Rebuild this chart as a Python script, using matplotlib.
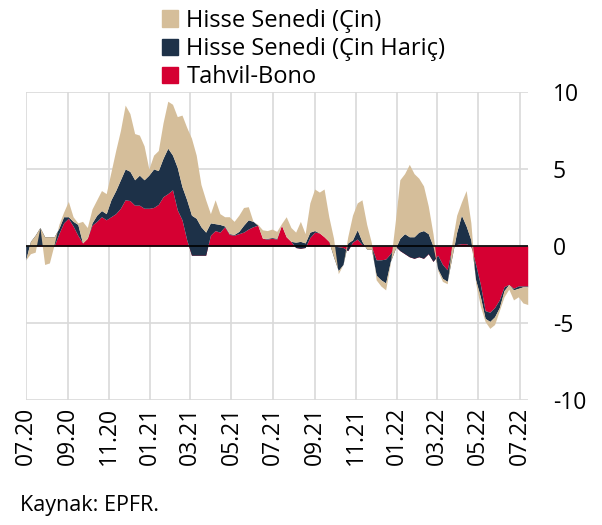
import matplotlib
matplotlib.use("Agg")
import matplotlib.pyplot as plt
import matplotlib.dates as mdates
from matplotlib.patches import Patch
import numpy as np
import pandas as pd

plt.rcParams['font.family'] = ['Open Sans', 'DejaVu Sans']
plt.rcParams['axes.unicode_minus'] = False

# weekly levels (stacked): bond, bond + equity ex-China, total
tahvil = [0, 0, 0, 0.1, 0, -0.3, 0, 0.8, 1.5, 1.8,
          1.3, 0.7, 0.2, 0.5, 1.35, 1.6, 1.9, 1.7, 1.9, 2.1,
          2.45, 3.0, 2.95, 2.65, 2.65, 2.45, 2.45, 2.5, 2.7, 3.2,
          3.4, 3.65, 2.35, 1.7, 0.4, -0.6, -0.6, -0.6, -0.6, 0.7,
          1.0, 0.9, 1.25, 0.75, 0.7, 0.8, 0.9, 1.1, 1.25, 1.35,
          0.5, 0.45, 0.5, 0.45, 1.35, 0.6, 0.3, -0.1, -0.15, -0.1,
          0.55, 0.9, 0.85, 0.6, 0.3, 0.0, -0.05, -0.1, -0.3, 0.25,
          0.45, 0.1, 0.0, -0.05, -0.9, -0.9, -0.85, -0.5, 0.0, -0.3,
          -0.5, -0.7, -0.8, -0.7, -0.8, -0.5, -1.0, -0.6, -1.2, -1.55,
          -0.1, 0.1, 0.15, 0.15, 0.0, -1.2, -2.5, -4.2, -4.3, -4.0,
          -3.5, -2.65, -2.5, -2.75, -2.6, -2.6, -2.6]
hisse_haric = [-0.9, 0.3, 0.7, 1.2, 0.6, 0.6, 0.6, 1.15, 1.9, 1.9,
               1.6, 1.4, 0.2, 0.5, 1.5, 2.0, 2.3, 2.1, 3.0, 3.6,
               4.3, 5.0, 4.85, 4.3, 4.6, 4.3, 4.6, 5.0, 4.9, 5.7,
               6.35, 5.9, 5.1, 3.85, 3.0, 2.0, 1.8, 1.25, 0.9, 1.5,
               1.45, 1.4, 1.3, 0.8, 0.75, 0.95, 1.35, 1.7, 1.6, 1.35,
               0.5, 0.5, 0.55, 0.5, 1.35, 0.6, 0.3, 0.25, 0.3, 0.2,
               0.9, 1.0, 0.85, 0.6, 0.3, -0.7, -1.6, -1.2, 0.2, 0.4,
               1.05, 0.3, -0.2, -0.2, -1.9, -2.2, -2.4, -1.0, -0.2, 0.5,
               0.8, 0.6, 0.6, 0.9, 1.0, 0.8, 0.0, -1.5, -2.1, -2.3,
               -0.7, 0.9, 2.0, 1.3, 0.4, -2.2, -3.3, -4.7, -4.9, -4.6,
               -4.0, -2.9, -2.5, -2.85, -2.75, -2.65, -2.65]
toplam = [-0.9, -0.5, -0.4, 1.2, -1.2, -1.1, 0.1, 1.4, 2.2, 2.9,
          1.9, 1.5, 1.6, 1.2, 2.4, 3.0, 3.6, 3.4, 4.8, 6.2,
          7.5, 9.15, 8.6, 7.3, 7.2, 6.5, 5.0, 5.9, 6.2, 8.0,
          9.4, 9.2, 8.4, 8.5, 7.7, 7.0, 5.9, 4.0, 3.0, 2.1,
          3.0, 2.1, 1.9, 1.9, 1.6, 2.0, 2.5, 2.55, 1.6, 1.4,
          1.05, 1.0, 1.1, 0.95, 1.45, 1.9, 1.2, 0.9, 1.6, 0.8,
          2.8, 3.7, 3.5, 3.7, 1.9, 0.5, -1.8, -1.2, 0.6, 2.0,
          2.8, 3.0, 1.4, 0.2, -2.2, -2.6, -2.85, -1.1, 1.5, 4.3,
          4.7, 5.3, 4.7, 4.4, 3.9, 2.6, 0.8, -1.6, -2.3, -2.45,
          0.2, 2.0, 2.85, 3.6, 1.5, -2.4, -3.9, -4.9, -5.35, -5.1,
          -4.2, -3.3, -2.8, -3.5, -3.3, -3.7, -3.8]

labels = ['Hisse Senedi (Çin)', 'Hisse Senedi (Çin Hariç)', 'Tahvil-Bono']
colors = ['#D5BE9A', '#1D3148', '#D50032']

dates = pd.date_range('2020-07-01', periods=len(tahvil), freq='7D')
r = np.array(tahvil)
n = np.array(hisse_haric)
t = np.array(toplam)

fig = plt.figure(figsize=(6.02, 5.25), dpi=100)
ax = fig.add_axes([0.0427, 0.2381, 0.8339, 0.5867])

ax.fill_between(dates, 0, r, color=colors[2], lw=0, zorder=2)
ax.fill_between(dates, r, n, color=colors[1], lw=0, zorder=2)
ax.fill_between(dates, n, t, color=colors[0], lw=0, zorder=2)
ax.axhline(0, color='black', lw=1.2, zorder=3)

ax.set_xlim(dates[0], dates[-1])
ax.set_ylim(-10, 10)
ax.set_yticks([-10, -5, 0, 5, 10])
ax.xaxis.set_major_locator(mdates.MonthLocator(bymonth=[1, 3, 5, 7, 9, 11]))
ax.xaxis.set_major_formatter(mdates.DateFormatter('%m.%y'))
ax.yaxis.tick_right()
ax.tick_params(axis='x', length=0, pad=5, labelsize=16.5, rotation=90)
ax.tick_params(axis='y', length=0, pad=18, labelsize=16.5)
for lab in ax.get_yticklabels():
    lab.set_horizontalalignment('left')

ax.grid(True, color='#d9d9d9', lw=1.2)
ax.set_axisbelow(True)
for s in ax.spines.values():
    s.set_visible(False)

handles = [Patch(color=c) for c in colors]
fig.legend(handles, labels, loc='upper left', bbox_to_anchor=(0.245, 1.01),
           frameon=False, fontsize=17, handlelength=0.7, handleheight=0.7,
           handletextpad=0.35, labelspacing=0.18, borderpad=0.1)

fig.text(0.033, 0.038, 'Kaynak: EPFR.', fontsize=15.5, va='center')

fig.savefig('out.png', dpi=100)
